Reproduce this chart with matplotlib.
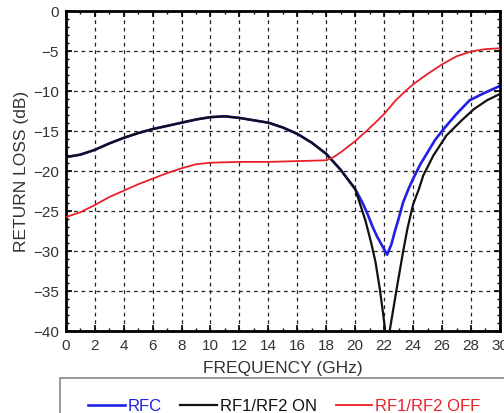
import matplotlib
matplotlib.use("Agg")
import matplotlib.pyplot as plt
from matplotlib.patches import Rectangle
from matplotlib.ticker import MultipleLocator

plt.rcParams['font.family'] = ['Liberation Sans', 'DejaVu Sans']

# RF1/RF2 ON (black)
on_freq = [0, 1, 2, 3, 4, 5, 6, 7, 8, 9, 10, 11, 12, 13, 14, 15, 16, 17, 18, 19,
           20, 20.7, 21.1, 21.4, 21.7, 21.9, 22.07, 22.25, 22.4, 22.86, 23.3, 23.6,
           24.0, 24.4, 24.7, 25.4, 26.3, 27.3, 28.2, 29.1, 30]
on_db = [-18.3, -18.0, -17.4, -16.6, -15.9, -15.3, -14.8, -14.4, -14.0, -13.6, -13.3,
         -13.2, -13.4, -13.7, -14.0, -14.6, -15.4, -16.5, -17.9, -19.9,
         -22.3, -26.2, -29.0, -31.4, -34.8, -37.5, -40.0, -44.0, -39.8, -34.8, -30.2, -27.3,
         -24.2, -22.3, -20.6, -18.1, -15.6, -13.8, -12.3, -11.2, -10.4]

# RFC (blue)
rfc_freq = [0, 1, 2, 3, 4, 5, 6, 7, 8, 9, 10, 11, 12, 13, 14, 15, 16, 17, 18, 19,
            20, 20.5, 20.8, 21.2, 21.5, 21.9, 22.2, 22.5, 22.75, 23.0, 23.3, 23.7,
            24.0, 24.5, 25.0, 25.5, 26.1, 27.0, 27.9, 28.9, 30]
rfc_db = [-18.3, -18.0, -17.4, -16.6, -15.9, -15.3, -14.8, -14.4, -14.0, -13.6, -13.3,
          -13.2, -13.4, -13.7, -14.0, -14.6, -15.4, -16.5, -17.9, -19.9,
          -22.3, -24.0, -25.2, -27.0, -28.2, -29.5, -30.5, -29.2, -27.5, -26.0, -24.0, -22.2,
          -21.0, -19.2, -17.7, -16.2, -14.8, -12.9, -11.2, -10.3, -9.4]

# RF1/RF2 OFF (red)
off_freq = [0, 1, 2, 3, 4, 5, 6, 7, 8, 9, 10, 12, 14, 16, 18, 18.5, 19, 19.5, 20,
            20.8, 21.5, 22, 22.8, 23.5, 24, 25, 26, 27, 28, 29, 30]
off_db = [-25.8, -25.2, -24.3, -23.3, -22.5, -21.7, -21.0, -20.3, -19.7, -19.2, -19.0,
          -18.9, -18.9, -18.8, -18.7, -18.3, -17.7, -17.0, -16.3,
          -15.0, -13.8, -12.9, -11.2, -10.0, -9.2, -7.9, -6.7, -5.7, -5.1, -4.8, -4.7]

labels = ["RFC", "RF1/RF2 ON", "RF1/RF2 OFF"]
colors = ["#1f1fe6", "#111111", "#e8202a"]

fig = plt.figure(figsize=(5.04, 4.14), dpi=100)
ax = fig.add_axes([0.1304, 0.1988, 0.992 - 0.1304, 0.9717 - 0.1988])

l1, = ax.plot(rfc_freq, rfc_db, color=colors[0], lw=1.9, label=labels[0], zorder=2)
l2, = ax.plot(on_freq, on_db, color=colors[1], lw=1.6, label=labels[1], zorder=3)
l3, = ax.plot(off_freq, off_db, color=colors[2], lw=1.3, label=labels[2], zorder=4)

ax.set_xlim(0, 30)
ax.set_ylim(-40, 0)
ax.xaxis.set_major_locator(MultipleLocator(2))
ax.xaxis.set_minor_locator(MultipleLocator(1))
ax.yaxis.set_major_locator(MultipleLocator(5))
ax.yaxis.set_minor_locator(MultipleLocator(1))
ax.tick_params(which='both', direction='in', top=True, right=True,
               labelsize=11, labelcolor='#333333', pad=5)
ax.tick_params(which='major', length=4, width=1.2)
ax.tick_params(which='minor', length=2.5, width=1.0)
ax.grid(True, which='major', color='#222222', linestyle=(0, (3, 3)), lw=0.9)
for s in ax.spines.values():
    s.set_linewidth(2.0)

ax.set_xlabel("FREQUENCY (GHz)", fontsize=12.5, color='#333333', labelpad=6)
ax.set_ylabel("RETURN LOSS (dB)", fontsize=12.5, color='#333333', labelpad=3)

box = Rectangle((60 / 504, -0.05), 0.95, 1 - 379 / 414 + 0.05,
                transform=fig.transFigure, fill=False, edgecolor='#888888',
                lw=1.2, clip_on=False)
fig.add_artist(box)

fig.legend(handles=[l1, l2, l3], labels=labels, ncol=3, frameon=False,
           loc='center left', bbox_to_anchor=(88 / 504, 1 - 407 / 414),
           fontsize=12, handlelength=2.2, handletextpad=0.15, columnspacing=1.15,
           labelcolor='linecolor', borderpad=0, borderaxespad=0)

fig.savefig("out.png", dpi=100)
